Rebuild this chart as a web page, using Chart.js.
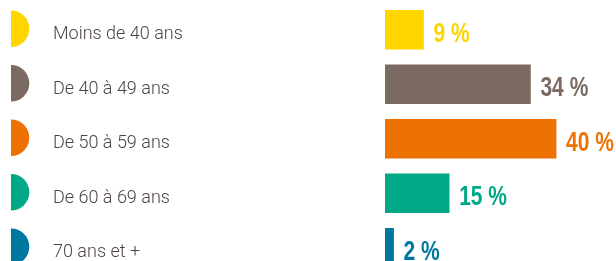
<!DOCTYPE html>
<html>
<head>
<meta charset="utf-8">
<script src="https://cdn.jsdelivr.net/npm/chart.js@4/dist/chart.umd.min.js"></script>
<style>
  html, body { margin: 0; padding: 0; background: #ffffff; overflow: hidden; }
  #wrap { position: relative; width: 616px; height: 275px; }
</style>
</head>
<body>
<div id="wrap"><canvas id="c"></canvas></div>
<script>
const categories = ["Moins de 40 ans", "De 40 à 49 ans", "De 50 à 59 ans", "De 60 à 69 ans", "70 ans et +"];
const values = [9, 34, 40, 15, 2];
const valueLabels = ["9 %", "34 %", "40 %", "15 %", "2 %"];
const colors = ["#FFD500", "#7A6A62", "#EE7203", "#00A886", "#00779E"];

const decorPlugin = {
  id: 'decor',
  afterDatasetsDraw(chart) {
    const ctx = chart.ctx;
    const yScale = chart.scales.y;
    const meta = chart.getDatasetMeta(0);
    ctx.save();
    categories.forEach((c, i) => {
      const y = yScale.getPixelForTick(i);
      // half circle marker
      ctx.fillStyle = colors[i];
      ctx.beginPath();
      ctx.arc(11, y - 1, 18.3, -Math.PI / 2, Math.PI / 2);
      ctx.closePath();
      ctx.fill();
      // value label (condensed bold)
      const bar = meta.data[i];
      ctx.save();
      ctx.translate(bar.x + 10, bar.y + 12);
      ctx.scale(0.75, 1);
      ctx.fillStyle = colors[i];
      ctx.font = 'bold 28px "Liberation Sans", Arial, sans-serif';
      ctx.textAlign = 'left';
      ctx.textBaseline = 'alphabetic';
      ctx.fillText(valueLabels[i], 0, 0);
      ctx.restore();
    });
    ctx.restore();
  }
};

new Chart(document.getElementById('c'), {
  type: 'bar',
  data: {
    labels: categories,
    datasets: [{
      data: values,
      backgroundColor: colors,
      borderWidth: 0,
      barThickness: 39
    }]
  },
  options: {
    indexAxis: 'y',
    responsive: true,
    maintainAspectRatio: false,
    animation: false,
    layout: { padding: { left: 53, top: 2.5, right: 0, bottom: 0 } },
    plugins: { legend: { display: false }, tooltip: { enabled: false } },
    scales: {
      x: { display: false, min: 0, max: 54 },
      y: {
        grid: { display: false, drawTicks: false },
        border: { display: false },
        afterFit(scale) { scale.width = 332; scale.paddingTop = 0; scale.paddingBottom = 0; },
        ticks: {
          crossAlign: 'far',
          padding: 0,
          labelOffset: 5,
          color: '#4d4543',
          font: { family: 'Roboto', weight: '300', size: 18 }
        }
      }
    }
  },
  plugins: [decorPlugin]
});
</script>
</body>
</html>
